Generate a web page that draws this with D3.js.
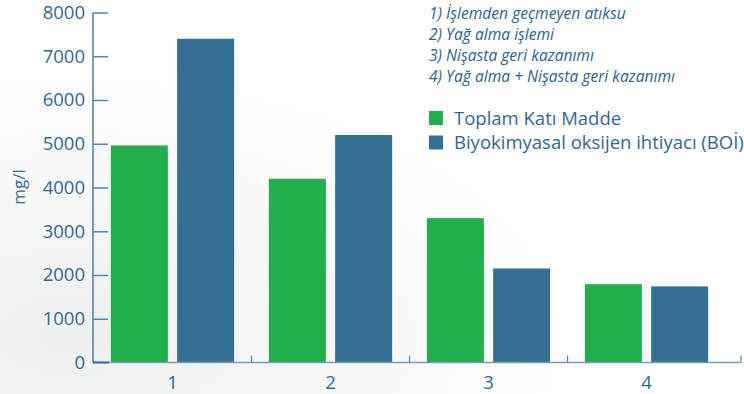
<!DOCTYPE html>
<html><head><meta charset="utf-8">
<script src="https://cdn.jsdelivr.net/npm/d3@7"></script>
<style>
html,body{margin:0;padding:0;background:#fff;}
svg{display:block;font-family:"Open Sans",sans-serif;}
</style></head>
<body>
<svg id="c" width="744" height="394"></svg>
<script>
const categories = ["1","2","3","4"];
const seriesNames = ["Toplam Katı Madde","Biyokimyasal oksijen ihtiyacı (BOİ)"];
const tkm = [4960, 4200, 3300, 1790];
const boi = [7400, 5200, 2150, 1740];
const yTicks = [0,1000,2000,3000,4000,5000,6000,7000,8000];
const notes = ["1) İşlemden geçmeyen atıksu","2) Yağ alma işlemi","3) Nişasta geri kazanımı","4) Yağ alma + Nişasta geri kazanımı"];
const colors = ["#22ae4b","#376f93"];
const textColor = "#33688f";

const svg = d3.select("#c");
const defs = svg.append("defs");
const rg = defs.append("radialGradient").attr("id","bg").attr("cx","0.1").attr("cy","0.85").attr("r","0.7");
rg.append("stop").attr("offset","0").attr("stop-color","#eef0ef");
rg.append("stop").attr("offset","1").attr("stop-color","#ffffff");
svg.append("rect").attr("width",744).attr("height",394).attr("fill","url(#bg)");

const axisX0 = 93, axisX1 = 741, baseY = 362.5, topY = 12.5;
const y = d3.scaleLinear().domain([0,8000]).range([baseY, topY]);
const x0 = d3.scaleBand().domain(categories).range([93.5, 725.5]).paddingInner(0.22).paddingOuter(0.11);
const x1 = d3.scaleBand().domain(seriesNames).range([0, x0.bandwidth()]).paddingInner(0.14).paddingOuter(0);

const data = categories.map((c,i)=>({cat:c, vals:[tkm[i], boi[i]]}));

const g = svg.append("g");
data.forEach(d=>{
  d.vals.forEach((v,j)=>{
    g.append("rect")
      .attr("x", x0(d.cat)+x1(seriesNames[j]))
      .attr("y", y(v))
      .attr("width", x1.bandwidth())
      .attr("height", baseY - y(v))
      .attr("fill", colors[j]);
  });
});

const yAxis = d3.axisRight(y).tickValues(yTicks.slice(1)).tickSize(15).tickFormat("");
const ya = svg.append("g").attr("transform",`translate(${axisX0},0)`).call(yAxis);
ya.select(".domain").remove();
ya.selectAll(".tick line").attr("stroke","#5a86a8").attr("stroke-width",1.5);
svg.append("line").attr("x1",axisX0).attr("x2",axisX0).attr("y1",y(8000)).attr("y2",baseY)
  .attr("stroke","#4f7fa3").attr("stroke-width",1.5);
svg.selectAll(".ylab").data(yTicks).enter().append("text")
  .attr("x", 85).attr("y", d=>y(d)).attr("dy","0.35em")
  .attr("text-anchor","end").attr("font-size",18.5).attr("fill",textColor).text(d=>d);

svg.append("line").attr("x1",axisX0).attr("x2",axisX1).attr("y1",baseY).attr("y2",baseY)
  .attr("stroke","#7b9cb8").attr("stroke-width",1.5);
svg.append("line").attr("x1",axisX0).attr("x2",axisX0+16).attr("y1",baseY).attr("y2",baseY)
  .attr("stroke","#3f6f96").attr("stroke-width",2);
const bounds = categories.slice(0,3).map(c=>x0(c)+x0.step()-x0.step()*x0.paddingInner()/2);
bounds.push(axisX1);
svg.selectAll(".xt").data(bounds).enter().append("line")
  .attr("x1",d=>d).attr("x2",d=>d).attr("y1",baseY).attr("y2",baseY-7)
  .attr("stroke","#5a86a8").attr("stroke-width",1.2);
svg.selectAll(".xlab").data(categories).enter().append("text")
  .attr("x", d=>x0(d)+x0.bandwidth()/2).attr("y", 389)
  .attr("text-anchor","middle").attr("font-size",18.5).attr("fill",textColor).text(d=>d);

svg.append("text").attr("transform","translate(25,187) rotate(-90)")
  .attr("text-anchor","middle").attr("font-size",17).attr("fill",textColor).text("mg/l");

svg.selectAll(".note").data(notes).enter().append("text")
  .attr("x",429).attr("y",(d,i)=>19+i*21)
  .attr("font-size",15.6).attr("font-style","italic").attr("fill","#2f638b").text(d=>d);

seriesNames.forEach((s,i)=>{
  svg.append("rect").attr("x",429).attr("y",111+i*24.5).attr("width",14).attr("height",14).attr("fill",colors[i]);
  svg.append("text").attr("x",454).attr("y",118+i*24.5).attr("dy","0.36em")
    .attr("font-size",18.5).attr("fill",textColor).text(s);
});
</script>
</body></html>
